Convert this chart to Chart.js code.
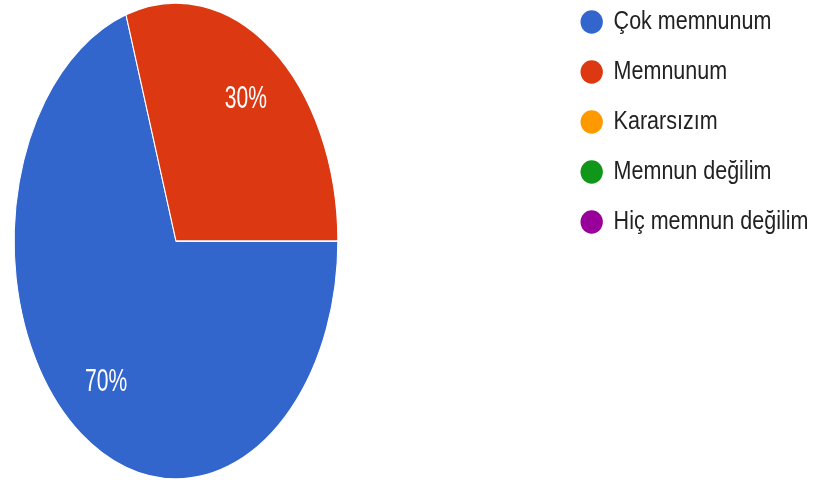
<!DOCTYPE html>
<html>
<head>
<meta charset="utf-8">
<script src="https://cdn.jsdelivr.net/npm/chart.js@4.4.1/dist/chart.umd.min.js"></script>
<style>
  html,body{margin:0;padding:0;background:#fff;}
  #pie{display:block;}
</style>
</head>
<body>
<canvas id="pie" width="816" height="486"></canvas>
<script>
// answers + share of each (in %)
const labels=["Çok memnunum","Memnunum","Kararsızım","Memnun değilim","Hiç memnun değilim"];
const values=[70,30,0,0,0];
const colors=["#3366cc","#dc3912","#ff9900","#109618","#990099"];

// the picture is squeezed sideways: pie a lot, legend text a bit
const squeeze=0.68;
const legendSqueeze=0.86;
const pieCenter={x:176,y:241};
const legendAt={x:559,dy:-15.5};

const pieCanvas=document.getElementById("pie");

const squeezePlugin={
    id:"squeeze",
    beforeDraw(chart){
        // legend is drawn right after this hook
        const lg=chart.legend;
        const ctx=chart.ctx;
        ctx.save();
        ctx.translate(legendAt.x,legendAt.dy);
        ctx.scale(legendSqueeze,1);
        ctx.translate(-lg.left,0);
    },
    beforeDatasetsDraw(chart){
        const arc=chart.getDatasetMeta(0).data[0];
        const ctx=chart.ctx;
        ctx.restore();
        ctx.save();
        ctx.translate(pieCenter.x,pieCenter.y);
        ctx.scale(squeeze,1);
        ctx.translate(-arc.x,-arc.y);
    },
    afterDatasetsDraw(chart){
        const ctx=chart.ctx;
        const meta=chart.getDatasetMeta(0);
        const total=values.reduce((a,b)=>a+b,0);
        ctx.font="31px 'Liberation Sans', Arial, sans-serif";
        ctx.fillStyle="#ffffff";
        ctx.textAlign="center";
        ctx.textBaseline="middle";
        meta.data.forEach((arc,i)=>{
            if(!values[i]) return;
            const p=arc.getProps(["x","y","startAngle","endAngle","outerRadius"]);
            const mid=(p.startAngle+p.endAngle)/2;
            const r=p.outerRadius*0.735;
            const pct=Math.round(values[i]/total*100)+"%";
            ctx.fillText(pct,p.x+Math.cos(mid)*r,p.y+Math.sin(mid)*r);
        });
        ctx.restore();
    }
};

new Chart(pieCanvas,{
    type:"pie",
    data:{
        labels:labels,
        datasets:[{
            data:values,
            backgroundColor:colors,
            borderColor:"#ffffff",
            borderWidth:1.5,
            clip:false
        }]
    },
    options:{
        responsive:false,
        devicePixelRatio:1,
        animation:false,
        events:[],
        rotation:90,
        radius:238,
        layout:{padding:{top:0,bottom:0,left:0,right:4}},
        plugins:{
            tooltip:{enabled:false},
            legend:{
                position:"right",
                align:"start",
                labels:{
                    usePointStyle:true,
                    pointStyle:"circle",
                    pointStyleWidth:26,
                    boxWidth:26,
                    boxHeight:16.5,
                    padding:25,
                    color:"#222222",
                    font:{family:"'Liberation Sans', Arial, sans-serif",size:25},
                    generateLabels(chart){
                        const items=Chart.overrides.pie.plugins.legend.labels.generateLabels(chart);
                        items.forEach(it=>{it.lineWidth=0;});
                        return items;
                    }
                }
            }
        }
    },
    plugins:[squeezePlugin]
});
</script>
</body>
</html>
